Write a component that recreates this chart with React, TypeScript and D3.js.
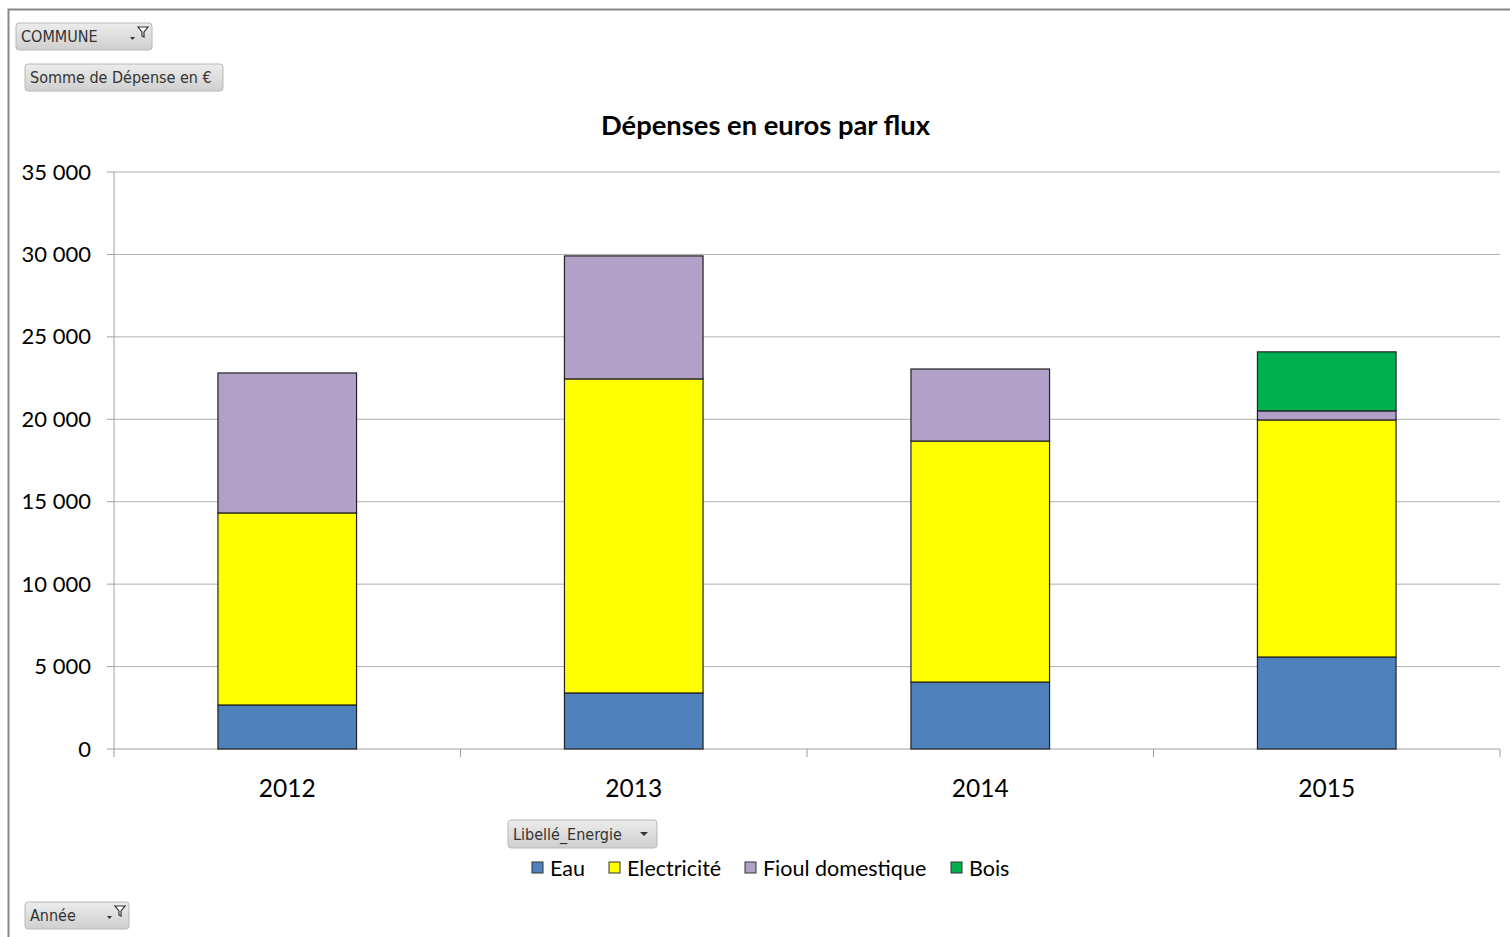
import React from "react";
import * as d3 from "d3";

const years = ["2012", "2013", "2014", "2015"];
const seriesNames = ["Eau", "Electricité", "Fioul domestique", "Bois"];
const eau = [2670, 3400, 4060, 5580];
const electricite = [11650, 19050, 14620, 14380];
const fioul = [8490, 7460, 4370, 550];
const bois = [0, 0, 0, 3580];
const colors = ["#4F81BD", "#FFFF00", "#B1A0C7", "#00B050"];
const yTicks = [0, 5000, 10000, 15000, 20000, 25000, 30000, 35000];

const W = 1510, H = 937;
const left = 114, right = 1500, top = 172, bottom = 749;
const font = "Lato, 'Open Sans', sans-serif";
const btnFont = "'DejaVu Sans Condensed', 'DejaVu Sans', sans-serif";

function fmt(v: number) {
  return v === 0 ? "0" : d3.format(",")(v).replace(/,/g, " ");
}

function Btn({ x, y, w, h, label, icon, fs }: { x: number; y: number; w: number; h: number; label: string; icon: "filter" | "drop" | "none"; fs: number }) {
  return (
    <g>
      <rect x={x} y={y} width={w} height={h} rx={3} fill="url(#btnGrad)" stroke="#b8b8b8" />
      <text x={x + 5} y={y + h / 2 + 5.5} fontFamily={btnFont} fontSize={fs} fill="#333">{label}</text>
      {icon === "filter" ? (
        <g>
          <path d={`M${x + w - 14},${y + 4} l10,0 l-4,5 l0,5 l-2,-1 l0,-4 z`} fill="#fff" stroke="#333" strokeWidth={1.2} />
          <path d={`M${x + w - 22},${y + 14} l5,0 l-2.5,3 z`} fill="#333" />
        </g>
      ) : icon === "drop" ? (
        <path d={`M${x + w - 17},${y + h / 2 - 2} l8,0 l-4,4 z`} fill="#333" />
      ) : null}
    </g>
  );
}

export default function App() {
  const x = d3.scaleBand().domain(years).range([left, right]).paddingInner(0.6).paddingOuter(0.3);
  const y = d3.scaleLinear().domain([0, 35000]).range([bottom, top]);
  const table = years.map((yr, i) => ({ year: yr, Eau: eau[i], "Electricité": electricite[i], "Fioul domestique": fioul[i], Bois: bois[i] }));
  const stacked = d3.stack<any>().keys(seriesNames)(table);
  const band = d3.scaleBand().domain(years).range([left, right]);

  const legendItems = [
    { name: "Eau", sx: 532 },
    { name: "Electricité", sx: 609 },
    { name: "Fioul domestique", sx: 745 },
    { name: "Bois", sx: 951 },
  ];

  return (
    <svg width={W} height={H} style={{ position: "absolute", left: 0, top: 0 }}>
      <defs>
        <linearGradient id="btnGrad" x1="0" y1="0" x2="0" y2="1">
          <stop offset="0" stopColor="#ececec" />
          <stop offset="1" stopColor="#cfcfcf" />
        </linearGradient>
      </defs>
      <rect x={0} y={0} width={W} height={H} fill="#fff" />
      <path d={`M8.5,${H} L8.5,9.5 L${W},9.5`} fill="none" stroke="#878787" strokeWidth={2} />

      {yTicks.map((t) => (
        <g key={t}>
          <line x1={left} x2={right} y1={y(t)} y2={y(t)} stroke={t === 0 ? "#a0a0a0" : "#b0b0b0"} strokeWidth={1} />
          <line x1={left - 7} x2={left} y1={y(t)} y2={y(t)} stroke="#a0a0a0" />
          <text x={91} y={y(t) + 7.5} textAnchor="end" fontFamily={font} fontSize={22} fill="#000">{fmt(t)}</text>
        </g>
      ))}
      <line x1={left} x2={left} y1={top} y2={bottom} stroke="#a0a0a0" />
      {years.map((yr) => (
        <line key={yr} x1={band(yr)!} x2={band(yr)!} y1={bottom} y2={bottom + 8} stroke="#a0a0a0" />
      ))}
      <line x1={right} x2={right} y1={bottom} y2={bottom + 8} stroke="#a0a0a0" />

      {stacked.map((s, si) => (
        <g key={s.key}>
          {s.map((d, i) =>
            d[1] - d[0] > 0 ? (
              <rect key={i} x={x(years[i])!} width={x.bandwidth()} y={y(d[1])} height={y(d[0]) - y(d[1])}
                fill={colors[si]} stroke="#222" strokeWidth={1.2} />
            ) : null
          )}
        </g>
      ))}

      {years.map((yr) => (
        <text key={yr} x={band(yr)! + band.bandwidth() / 2} y={797} textAnchor="middle" fontFamily={font} fontSize={24.5} fill="#000">{yr}</text>
      ))}

      <text x={765.5} y={135} textAnchor="middle" fontFamily={font} fontWeight="bold" fontSize={26} textLength={329} lengthAdjust="spacingAndGlyphs" fill="#000">Dépenses en euros par flux</text>

      {legendItems.map((l, i) => (
        <g key={l.name}>
          <rect x={l.sx} y={862} width={11} height={11} fill={colors[i]} stroke="#333" />
          <text x={l.sx + 18} y={876} fontFamily={font} fontSize={21.5} fill="#000">{l.name}</text>
        </g>
      ))}

      <Btn x={16} y={23} w={136} h={27} label="COMMUNE" icon="filter" fs={16} />
      <Btn x={25} y={64} w={198} h={27} label="Somme de Dépense en €" icon="none" fs={16} />
      <Btn x={508} y={820} w={149} h={28} label="Libellé_Energie" icon="drop" fs={16} />
      <Btn x={25} y={902} w={104} h={27} label="Année" icon="filter" fs={16} />
    </svg>
  );
}
